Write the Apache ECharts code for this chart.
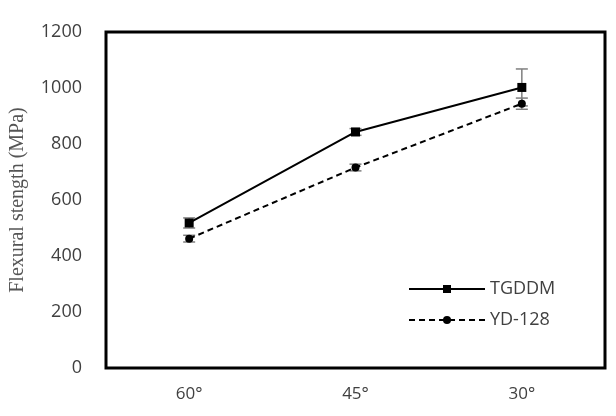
<!DOCTYPE html>
<html>
<head>
<meta charset="utf-8">
<script src="https://cdn.jsdelivr.net/npm/echarts@6/dist/echarts.min.js"></script>
<style>
  html, body { margin: 0; padding: 0; background: #fff; }
  #chart { width: 616px; height: 416px; }
</style>
</head>
<body>
<div id="chart"></div>
<script>
var categories = ['60°', '45°', '30°'];
var tgddm = [518, 843, 1002];
var tgddmErr = [18, 12, 66];
var yd128 = [462, 716, 944];
var yd128Err = [12, 12, 20];
var yTicks = [0, 200, 400, 600, 800, 1000, 1200];

var myChart = echarts.init(document.getElementById('chart'));

// 误差线
function errorData(vals, errs) {
    var out = [];
    for (var i = 0; i < vals.length; i++) {
        out.push([i, vals[i] - errs[i], vals[i] + errs[i]]);
    }
    return out;
}
function renderError(params, api) {
    var lo = api.coord([api.value(0), api.value(1)]);
    var hi = api.coord([api.value(0), api.value(2)]);
    var w = 6;
    var style = { stroke: '#7f7f7f', lineWidth: 1.5 };
    return {
        type: 'group',
        children: [
            { type: 'line', shape: { x1: hi[0], y1: hi[1], x2: lo[0], y2: lo[1] }, style: style },
            { type: 'line', shape: { x1: hi[0] - w, y1: hi[1], x2: hi[0] + w, y2: hi[1] }, style: style },
            { type: 'line', shape: { x1: lo[0] - w, y1: lo[1], x2: lo[0] + w, y2: lo[1] }, style: style }
        ]
    };
}

var option = {
    animation: false,
    backgroundColor: '#fff',
    grid: {
        left: 106, right: 11, top: 32, bottom: 48,
        show: true, borderColor: '#000', borderWidth: 3
    },
    legend: {
        left: 403, top: 275, orient: 'vertical',
        itemWidth: 76, itemHeight: 10, itemGap: 13,
        textStyle: { fontFamily: 'Open Sans', fontSize: 18, color: '#404040' },
        data: ['TGDDM', 'YD-128']
    },
    xAxis: {
        type: 'category',
        data: categories,
        boundaryGap: true,
        axisLine: { show: false },
        axisTick: { show: false },
        axisLabel: { fontFamily: 'Open Sans', fontSize: 17, color: '#404040', margin: 18 }
    },
    yAxis: {
        type: 'value',
        min: yTicks[0], max: yTicks[yTicks.length - 1], interval: 200,
        name: 'Flexural stength (MPa)',
        nameLocation: 'middle',
        nameGap: 78,
        nameTextStyle: { fontFamily: 'Liberation Serif', fontSize: 20, color: '#555' },
        axisLine: { show: false },
        axisTick: { show: false },
        splitLine: { show: false },
        axisLabel: {
            fontFamily: 'Open Sans', fontSize: 18, color: '#404040', margin: 24,
            formatter: function (v) { return String(v); }
        }
    },
    series: [
        {
            name: 'TGDDM', type: 'line', data: tgddm,
            symbol: 'rect', symbolSize: 9,
            lineStyle: { color: '#000', width: 2 },
            itemStyle: { color: '#000' }, z: 3
        },
        {
            name: 'YD-128', type: 'line', data: yd128,
            symbol: 'circle', symbolSize: 8,
            lineStyle: { color: '#000', width: 2, type: [6, 4] },
            itemStyle: { color: '#000' }, z: 3
        },
        { type: 'custom', renderItem: renderError, data: errorData(tgddm, tgddmErr), z: 2, silent: true },
        { type: 'custom', renderItem: renderError, data: errorData(yd128, yd128Err), z: 2, silent: true }
    ]
};
myChart.setOption(option);
</script>
</body>
</html>
